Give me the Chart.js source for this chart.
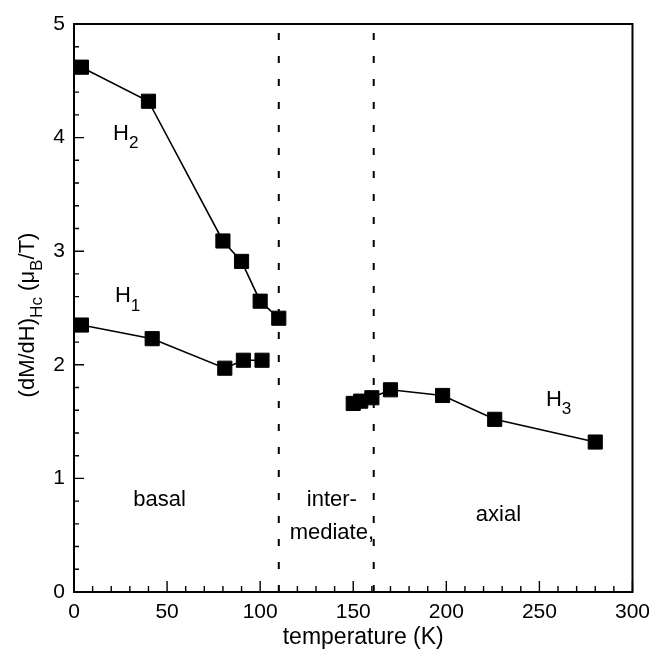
<!DOCTYPE html>
<html>
<head>
<meta charset="utf-8">
<script src="https://cdn.jsdelivr.net/npm/chart.js@4.4.1/dist/chart.umd.min.js"></script>
<style>
  html, body { margin: 0; padding: 0; background: #fff; }
  #wrap { width: 658px; height: 651px; }
</style>
</head>
<body>
<div id="wrap"><canvas id="dmdh"></canvas></div>
<script>
// susceptibility along the three field-induced phases
const h2Temp = [4, 40, 80, 90, 100, 110];
const h2Val  = [4.62, 4.32, 3.09, 2.91, 2.56, 2.41];
const h1Temp = [4, 42, 81, 91, 101];
const h1Val  = [2.35, 2.23, 1.97, 2.04, 2.04];
const h3Temp = [150, 154, 160, 170, 198, 226, 280];
const h3Val  = [1.66, 1.68, 1.71, 1.78, 1.73, 1.52, 1.32];
const phaseBounds = [110, 161];
const xTicks = [0, 50, 100, 150, 200, 250, 300];
const yTicks = [0, 1, 2, 3, 4, 5];

const FONT = '"Liberation Sans", Arial, Helvetica, sans-serif';
const pts = (xs, ys) => xs.map((x, i) => ({ x: x, y: ys[i] }));

const series = (data) => ({
  data: data, showLine: true, borderColor: '#000', borderWidth: 1.6,
  pointStyle: 'rect', pointRadius: 10, pointHoverRadius: 10,
  pointBackgroundColor: '#000', pointBorderColor: '#000', pointBorderWidth: 1
});

const bounds = phaseBounds.map(t => ({
  data: [{ x: t, y: 0 }, { x: t, y: 5 }], showLine: true,
  borderColor: '#000', borderWidth: 2, borderDash: [7, 16], pointRadius: 0
}));

// text with subscripts, drawn left to right from (x, y) baseline
function richText(ctx, parts, x, y, size) {
  let cx = x;
  parts.forEach(p => {
    const fs = p.sub ? size * 0.78 : size;
    ctx.font = fs + 'px ' + FONT;
    ctx.fillText(p.t, cx, p.sub ? y + size * 0.38 : y);
    cx += ctx.measureText(p.t).width;
  });
  return cx - x;
}
function richWidth(ctx, parts, size) {
  let w = 0;
  parts.forEach(p => {
    ctx.font = (p.sub ? size * 0.78 : size) + 'px ' + FONT;
    w += ctx.measureText(p.t).width;
  });
  return w;
}

const decor = {
  id: 'decor',
  afterDraw(chart) {
    const { ctx, chartArea: a, scales: { x, y } } = chart;
    ctx.save();
    ctx.strokeStyle = '#000';
    ctx.fillStyle = '#000';

    // frame
    ctx.lineWidth = 2;
    ctx.strokeRect(a.left, a.top, a.right - a.left, a.bottom - a.top);

    // inward tick marks
    ctx.lineWidth = 1.4;
    ctx.beginPath();
    for (let v = 0; v <= 300; v += 10) {
      const px = x.getPixelForValue(v);
      const len = v % 50 === 0 ? 11 : 6;
      ctx.moveTo(px, a.bottom); ctx.lineTo(px, a.bottom - len);
    }
    for (let k = 0; k <= 25; k++) {
      const py = y.getPixelForValue(k * 0.2);
      const len = k % 5 === 0 ? 10 : 5;
      ctx.moveTo(a.left, py); ctx.lineTo(a.left + len, py);
    }
    ctx.stroke();

    // curve labels
    ctx.textBaseline = 'alphabetic';
    ctx.textAlign = 'left';
    richText(ctx, [{ t: 'H' }, { t: '2', sub: true }], x.getPixelForValue(21), y.getPixelForValue(3.98), 22);
    richText(ctx, [{ t: 'H' }, { t: '1', sub: true }], x.getPixelForValue(22), y.getPixelForValue(2.55), 22);
    richText(ctx, [{ t: 'H' }, { t: '3', sub: true }], x.getPixelForValue(253.5), y.getPixelForValue(1.64), 22);

    // phase region labels
    ctx.font = '22px ' + FONT;
    ctx.textAlign = 'center';
    ctx.textBaseline = 'middle';
    ctx.fillText('basal', x.getPixelForValue(46), y.getPixelForValue(0.81));
    ctx.fillText('inter-', x.getPixelForValue(138.5), y.getPixelForValue(0.81));
    ctx.fillText('mediate,', x.getPixelForValue(138.5), y.getPixelForValue(0.52));
    ctx.fillText('axial', x.getPixelForValue(228), y.getPixelForValue(0.68));

    // axis titles
    ctx.font = '23px ' + FONT;
    ctx.fillText('temperature (K)', (a.left + a.right) / 2 + 10, 638);

    const yt = [{ t: '(dM/dH)' }, { t: 'Hc', sub: true }, { t: ' (\u03bc' }, { t: 'B', sub: true }, { t: '/T)' }];
    const w = richWidth(ctx, yt, 22);
    ctx.translate(34, 315);
    ctx.rotate(-Math.PI / 2);
    ctx.textAlign = 'left';
    ctx.textBaseline = 'alphabetic';
    richText(ctx, yt, -w / 2, 0, 22);
    ctx.restore();
  }
};

new Chart(document.getElementById('dmdh'), {
  type: 'scatter',
  data: {
    datasets: [series(pts(h2Temp, h2Val)), series(pts(h1Temp, h1Val)), series(pts(h3Temp, h3Val))].concat(bounds)
  },
  options: {
    responsive: true,
    maintainAspectRatio: false,
    animation: false,
    layout: { padding: { top: 24, right: 23, left: 0, bottom: 0 } },
    plugins: { legend: { display: false }, tooltip: { enabled: false } },
    scales: {
      x: {
        type: 'linear', min: 0, max: 300,
        afterFit: s => { s.height = 59; },
        afterBuildTicks: s => { s.ticks = xTicks.map(v => ({ value: v })); },
        grid: { display: false, drawTicks: false },
        border: { display: false },
        ticks: { color: '#000', padding: 8, maxRotation: 0, font: { size: 21, family: FONT } }
      },
      y: {
        type: 'linear', min: 0, max: 5,
        afterFit: s => { s.width = 74; },
        afterBuildTicks: s => { s.ticks = yTicks.map(v => ({ value: v })); },
        grid: { display: false, drawTicks: false },
        border: { display: false },
        ticks: { color: '#000', padding: 9, font: { size: 21, family: FONT } }
      }
    }
  },
  plugins: [decor]
});
</script>
</body>
</html>
